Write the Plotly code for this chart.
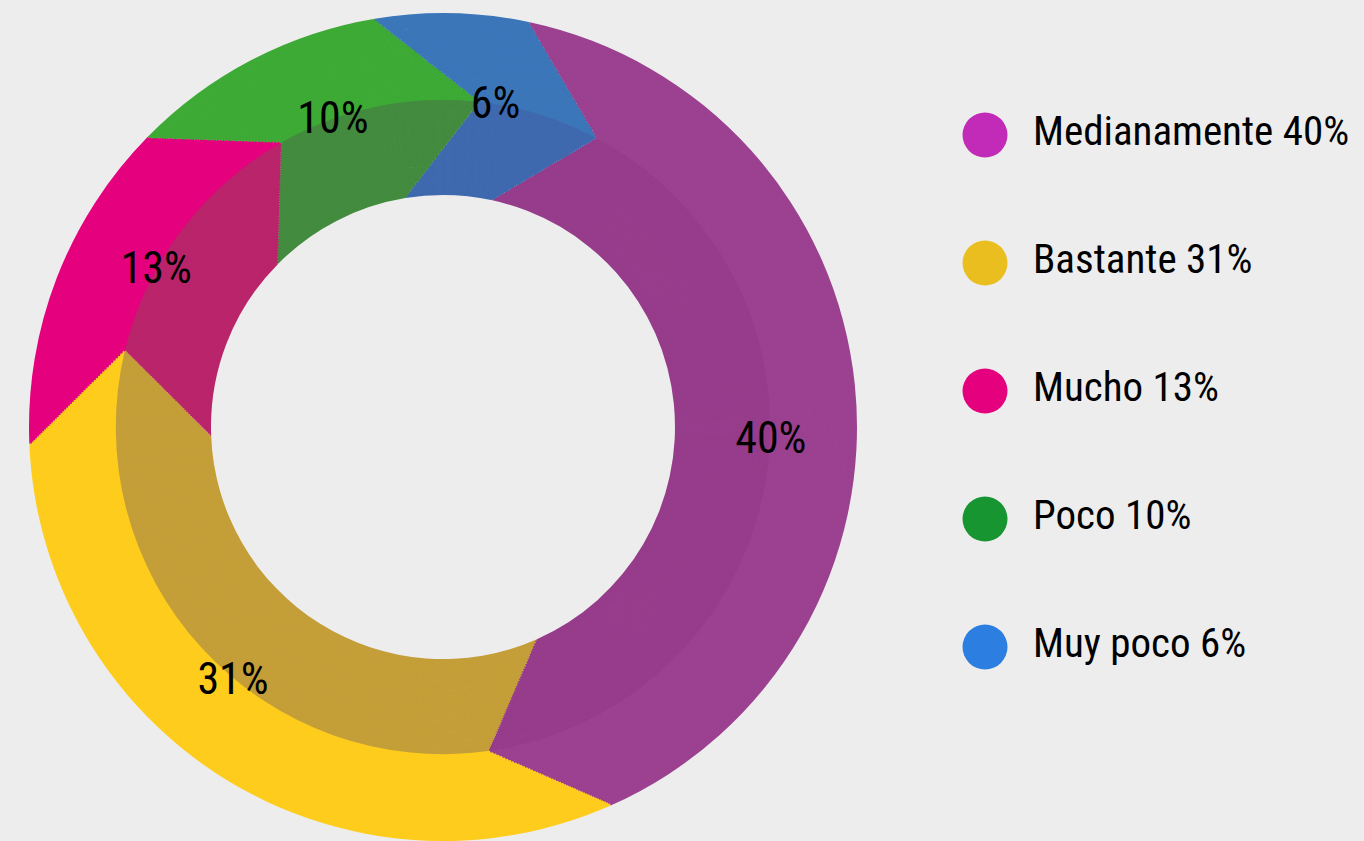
import math
import plotly.graph_objects as go

# ---- data ----
categories = ["Medianamente", "Bastante", "Mucho", "Poco", "Muy poco"]
values = [40, 31, 13, 10, 6]

# ---- styles ----
outer_colors = ["#9B4190", "#FECC1C", "#E5007E", "#3DAA35", "#3B76B9"]
inner_colors = ["#963C8B", "#C49E38", "#B9246A", "#438B3E", "#3F69AE"]
legend_colors = ["#C22BB7", "#EBBE1F", "#E5007E", "#169531", "#2C7FE0"]
BG = "#EDEDED"
FONT = "Roboto Condensed, Liberation Sans Narrow, DejaVu Sans Condensed, Arial Narrow, sans-serif"

W, H = 1364, 841
CX, CY = 443, 427
R_HOLE, R_MID, R_OUT = 232, 328, 414
BASE_ROT = 12
TWIST = 16
N = 48

fig = go.Figure()


def domain_for(r):
    return dict(x=[(CX - r) / W, (CX + r) / W],
                y=[max(0, (H - CY - r) / H), min(1, (H - CY + r) / H)])


def chord_angle(ra, ta, rb, tb, r):
    """Angle (deg) where the straight segment (ra,ta)-(rb,tb) crosses radius r."""
    ax, ay = ra * math.cos(math.radians(ta)), ra * math.sin(math.radians(ta))
    bx, by = rb * math.cos(math.radians(tb)), rb * math.sin(math.radians(tb))
    dx, dy = bx - ax, by - ay
    a = dx * dx + dy * dy
    b = 2 * (ax * dx + ay * dy)
    c = ax * ax + ay * ay - r * r
    disc = max(b * b - 4 * a * c, 0)
    t = (-b + math.sqrt(disc)) / (2 * a)
    t = min(max(t, 0), 1)
    return math.degrees(math.atan2(ay + t * dy, ax + t * dx))


def add_band(r_in, r_out, colors, inner_band):
    for i in range(N):
        r0 = r_in + (r_out - r_in) * i / N
        r1 = r_in + (r_out - r_in) * (i + 1) / N
        rm = (r0 + r1) / 2
        if inner_band:
            off = chord_angle(r_in, 0, r_out, TWIST, rm)
        else:
            off = chord_angle(r_in, TWIST, r_out, 0, rm)
        hole_r = r0 if (inner_band and i == 0) else r0 - 0.8
        fig.add_trace(go.Pie(
            values=values, labels=categories, sort=False, direction="clockwise",
            rotation=BASE_ROT + off, hole=hole_r / r1, domain=domain_for(r1),
            marker=dict(colors=colors, line=dict(width=0)),
            textinfo="none", hoverinfo="skip", showlegend=False))


add_band(R_HOLE, R_MID, inner_colors, True)
add_band(R_MID, R_OUT, outer_colors, False)

# percentage labels (transparent ring centred on the middle radius)
LR_OUT, LR_IN = 385, 271
fig.add_trace(go.Pie(
    values=values, labels=categories, sort=False, direction="clockwise",
    rotation=BASE_ROT + TWIST / 2, hole=LR_IN / LR_OUT, domain=domain_for(LR_OUT),
    marker=dict(colors=["rgba(0,0,0,0)"] * len(values), line=dict(width=0)),
    texttemplate="%{value}%", textposition="inside", insidetextorientation="horizontal",
    insidetextfont=dict(family=FONT, size=44, color="black"),
    hoverinfo="skip", showlegend=False))

# custom legend
fig.add_trace(go.Scatter(
    x=[0] * len(categories), y=list(range(len(categories))),
    mode="markers+text",
    marker=dict(size=45, color=legend_colors, line=dict(width=0)),
    text=["\u00a0\u00a0" + f"{c} {v}%" for c, v in zip(categories, values)],
    textposition="middle right",
    textfont=dict(family=FONT, size=41, color="black"),
    hoverinfo="skip", showlegend=False, cliponaxis=False))

fig.update_layout(
    width=W, height=H,
    margin=dict(l=0, r=0, t=0, b=0),
    paper_bgcolor=BG, plot_bgcolor="rgba(0,0,0,0)",
    xaxis=dict(visible=False, range=[-985, W - 985], domain=[0, 1], fixedrange=True),
    yaxis=dict(visible=False, range=[(H - 135) / 128, -135 / 128], domain=[0, 1], fixedrange=True),
    showlegend=False,
)

fig.write_html("out.html",
               config={"displayModeBar": False},
               post_script="document.body.style.margin='0';document.body.style.background='" + BG + "';")
